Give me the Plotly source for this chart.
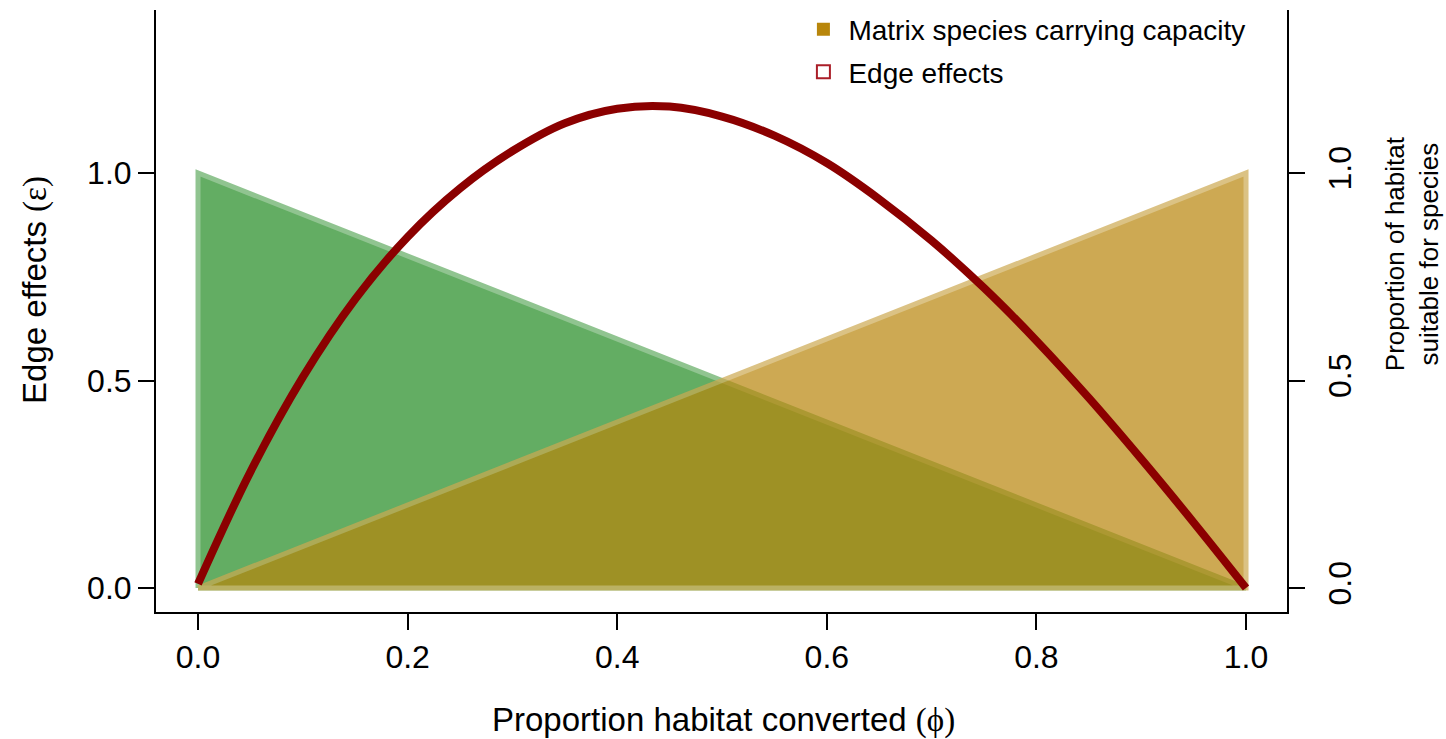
import plotly.graph_objects as go

# Proportion of habitat converted (phi) and the edge-effect curve
phi = [0.00, 0.05, 0.10, 0.15, 0.20, 0.25, 0.30, 0.35, 0.40, 0.45, 0.50,
       0.55, 0.60, 0.65, 0.70, 0.75, 0.80, 0.85, 0.90, 0.95, 1.00]
edge_effects = [0.010, 0.280, 0.508, 0.696, 0.846, 0.963, 1.053, 1.120, 1.155, 1.160, 1.136,
                1.090, 1.024, 0.937, 0.837, 0.723, 0.596, 0.458, 0.311, 0.158, 0.000]

# Habitat suitability triangles (corner points)
habitat_x = [0, 0, 1, 0]
habitat_y = [0, 1, 0, 0]
matrix_x = [0, 1, 1, 0]
matrix_y = [0, 0, 1, 0]

x_ticks = [0.0, 0.2, 0.4, 0.6, 0.8, 1.0]
y_ticks = [0.0, 0.5, 1.0]

SANS = "Liberation Sans, Arial, Helvetica, sans-serif"
SERIF = "Liberation Serif, DejaVu Serif, Times New Roman, serif"
X_RANGE = [-0.0401, 1.0391]
Y_RANGE = [-0.0578, 1.3928]

fig = go.Figure()

# Native-habitat species (green) triangle
fig.add_trace(go.Scatter(
    x=habitat_x, y=habitat_y, mode="lines", fill="toself",
    fillcolor="rgb(34,139,34)", line=dict(color="rgb(98,172,98)", width=5),
    opacity=0.7, showlegend=False, hoverinfo="skip", yaxis="y"))

# Matrix species carrying capacity (gold) triangle
fig.add_trace(go.Scatter(
    x=matrix_x, y=matrix_y, mode="lines", fill="toself",
    fillcolor="rgb(184,134,11)", line=dict(color="rgb(205,169,81)", width=5),
    opacity=0.7, showlegend=False, hoverinfo="skip", yaxis="y"))

# Edge effects curve
fig.add_trace(go.Scatter(
    x=phi, y=edge_effects, mode="lines",
    line=dict(color="rgb(139,0,0)", width=8, shape="spline", smoothing=1),
    showlegend=False, yaxis="y2"))

# Legend entries
fig.add_trace(go.Scatter(
    x=[None], y=[None], mode="markers", name="Matrix species carrying capacity",
    marker=dict(symbol="square", size=13, color="rgb(184,134,11)"),
    legendgroup="a", yaxis="y2"))
fig.add_trace(go.Scatter(
    x=[None], y=[None], mode="markers", name="Edge effects",
    marker=dict(symbol="square-open", size=13, color="rgb(170,30,40)",
                line=dict(width=2, color="rgb(170,30,40)")),
    legendgroup="b", yaxis="y2"))

axis_common = dict(
    showline=True, linecolor="black", linewidth=2,
    ticks="outside", ticklen=16, tickwidth=2, tickcolor="black",
    showgrid=False, zeroline=False,
    tickfont=dict(family=SANS, size=32, color="black"),
)

fig.update_layout(
    width=1446, height=739,
    margin=dict(l=156, r=159, t=10, b=127, autoexpand=False),
    paper_bgcolor="white", plot_bgcolor="white",
    xaxis=dict(range=X_RANGE, tickvals=x_ticks, tickformat=".1f", **axis_common),
    yaxis=dict(range=Y_RANGE, tickvals=y_ticks, tickformat=".1f", side="right",
               tickangle=-90, ticklabelstandoff=8, **axis_common),
    yaxis2=dict(range=Y_RANGE, tickvals=y_ticks, tickformat=".1f", side="left",
                overlaying="y", **axis_common),
    legend=dict(x=0.568, y=1.009, xanchor="left", yanchor="top",
                font=dict(family=SANS, size=28, color="black"),
                bgcolor="rgba(0,0,0,0)", tracegroupgap=3, itemwidth=40),
    showlegend=True,
    annotations=[
        dict(text='Proportion habitat converted <span style="font-family:%s">(ϕ)</span>' % SERIF,
             xref="paper", yref="paper", x=0.502, y=-0.179,
             xanchor="center", yanchor="middle", showarrow=False,
             font=dict(family=SANS, size=33, color="black")),
        dict(text='Edge effects <span style="font-family:%s">(ε)</span>' % SERIF,
             xref="paper", yref="paper", x=-0.107, y=0.535, textangle=-90,
             xanchor="center", yanchor="middle", showarrow=False,
             font=dict(family=SANS, size=33, color="black")),
        dict(text="Proportion of habitat<br>suitable for species",
             xref="paper", yref="paper", x=1.1105, y=0.596, textangle=-90,
             xanchor="center", yanchor="middle", showarrow=False,
             font=dict(family=SANS, size=26, color="black")),
    ],
)

fig.write_html("out.html")
